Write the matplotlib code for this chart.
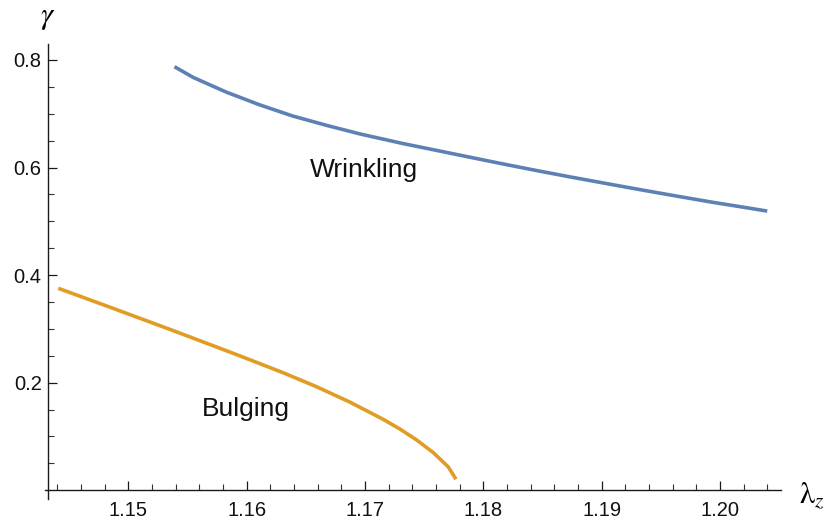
import numpy as np
import matplotlib
matplotlib.use("Agg")
import matplotlib.pyplot as plt
from matplotlib.ticker import FixedLocator, FixedFormatter

plt.rcParams['font.family'] = ['Liberation Sans', 'DejaVu Sans']
plt.rcParams['mathtext.fontset'] = 'stix'

# Critical stretch curves
wrinkling_lz = [1.1539, 1.1555, 1.1583, 1.1611, 1.1639, 1.1668, 1.1696, 1.1732,
                1.1761, 1.1789, 1.1817, 1.1845, 1.1873, 1.1910, 1.1938, 1.1966,
                1.1994, 1.2023, 1.2040]
wrinkling_g = [0.7874, 0.7673, 0.7400, 0.7165, 0.6957, 0.6781, 0.6623, 0.6446,
               0.6316, 0.6190, 0.6065, 0.5944, 0.5827, 0.5678, 0.5567, 0.5459,
               0.5353, 0.5251, 0.5190]

bulging_lz = [1.14408, 1.14817, 1.15380, 1.15944, 1.16310, 1.16592, 1.16873,
              1.17155, 1.17296, 1.17437, 1.17577, 1.17704, 1.17769]
bulging_g = [0.3755, 0.3426, 0.2968, 0.2498, 0.2184, 0.1924, 0.1639,
             0.1318, 0.1138, 0.0935, 0.0701, 0.0435, 0.0206]

x_major = [1.15, 1.16, 1.17, 1.18, 1.19, 1.20]
x_major_labels = ["1.15", "1.16", "1.17", "1.18", "1.19", "1.20"]
y_major = [0.2, 0.4, 0.6, 0.8]
y_major_labels = ["0.2", "0.4", "0.6", "0.8"]

blue = "#5E81B5"
orange = "#E19C24"

W, H = 832, 525
fig = plt.figure(figsize=(W / 100, H / 100), dpi=100)
ax = fig.add_axes([45 / W, (H - 499) / H, (781 - 45) / W, (499 - 44) / H])

ax.plot(wrinkling_lz, wrinkling_g, color=blue, lw=2.6, solid_capstyle='butt',
        solid_joinstyle='round')
ax.plot(bulging_lz, bulging_g, color=orange, lw=2.6, solid_capstyle='butt',
        solid_joinstyle='round')

ax.set_xlim(1.14296, 1.20516)
ax.set_ylim(-0.0162, 0.8296)

x0 = 1.14321
for s in ('top', 'right'):
    ax.spines[s].set_visible(False)
ax.spines['left'].set_position(('data', x0))
ax.spines['bottom'].set_position(('data', 0.0))
for s in ('left', 'bottom'):
    ax.spines[s].set_linewidth(1.0)
    ax.spines[s].set_color('#1a1a1a')

ax.xaxis.set_major_locator(FixedLocator(x_major))
ax.xaxis.set_major_formatter(FixedFormatter(x_major_labels))
x_minor = [round(1.144 + 0.002 * i, 3) for i in range(31)]
x_minor = [v for v in x_minor if all(abs(v - m) > 1e-6 for m in x_major)]
ax.xaxis.set_minor_locator(FixedLocator(x_minor))

ax.yaxis.set_major_locator(FixedLocator(y_major))
ax.yaxis.set_major_formatter(FixedFormatter(y_major_labels))
y_minor = [round(0.05 * i, 2) for i in range(1, 17)]
y_minor = [v for v in y_minor if all(abs(v - m) > 1e-6 for m in y_major)]
ax.yaxis.set_minor_locator(FixedLocator(y_minor))

ax.tick_params(axis='both', which='major', direction='in', length=6.5,
               width=0.9, color='#1a1a1a', labelsize=14.5, labelcolor='#111111')
ax.tick_params(axis='both', which='minor', direction='in', length=4,
               width=0.8, color='#333333')
ax.tick_params(axis='x', which='major', pad=8)
ax.tick_params(axis='y', which='major', pad=4.5)

ax.text(1.1699, 0.595, "Wrinkling", fontsize=19, ha='center', va='center',
        color='#111111')
ax.text(1.1599, 0.151, "Bulging", fontsize=19, ha='center', va='center',
        color='#111111')

fig.text(48 / W, 1 - 17 / H, r"$\gamma$", fontsize=22, ha='center',
         va='center')
fig.text(812 / W, 1 - 496 / H, r"$\mathrm{\lambda}_{z}$", fontsize=22,
         ha='center', va='center')

fig.savefig("out.png", dpi=100)
